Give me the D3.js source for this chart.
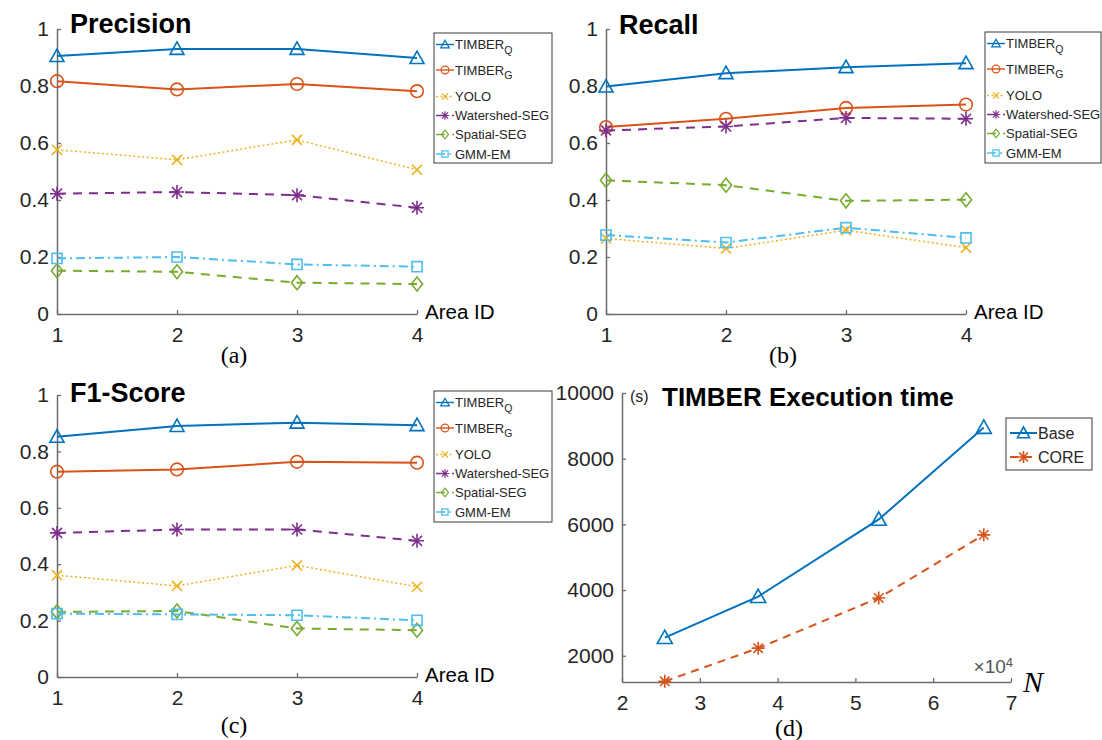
<!DOCTYPE html>
<html>
<head>
<meta charset="utf-8">
<script src="https://cdn.jsdelivr.net/npm/d3@7"></script>
<style>
  body { margin: 0; background: #fff; }
  svg { display: block; }
</style>
</head>
<body>
<svg id="chart" width="1102" height="740"></svg>
<script>
// ---- data -------------------------------------------------------------
const areaIds = [1, 2, 3, 4];
const methodNames = ["TIMBER", "TIMBER", "YOLO", "Watershed-SEG", "Spatial-SEG", "GMM-EM"];
const methodSubs = ["Q", "G", "", "", "", ""];

const precisionValues = [
  [0.905, 0.930, 0.930, 0.898],
  [0.817, 0.788, 0.807, 0.782],
  [0.576, 0.541, 0.611, 0.506],
  [0.422, 0.428, 0.417, 0.373],
  [0.152, 0.148, 0.110, 0.105],
  [0.195, 0.200, 0.174, 0.166]
];
const recallValues = [
  [0.798, 0.845, 0.866, 0.880],
  [0.656, 0.685, 0.723, 0.735],
  [0.265, 0.230, 0.294, 0.233],
  [0.644, 0.658, 0.688, 0.685],
  [0.469, 0.452, 0.397, 0.401],
  [0.277, 0.251, 0.303, 0.267]
];
const f1Values = [
  [0.852, 0.890, 0.902, 0.893],
  [0.728, 0.736, 0.763, 0.760],
  [0.361, 0.323, 0.396, 0.320],
  [0.511, 0.523, 0.523, 0.483],
  [0.231, 0.234, 0.172, 0.166],
  [0.225, 0.222, 0.219, 0.201]
];
const scoreTicks = [0, 0.2, 0.4, 0.6, 0.8, 1];

const nValues = [2.55, 3.75, 5.3, 6.65];
const baseTimes = [2550, 3800, 6150, 8950];
const coreTimes = [1220, 2230, 3760, 5680];
const nTicks = [2, 3, 4, 5, 6, 7];
const timeTicks = [2000, 4000, 6000, 8000, 10000];

// ---- styles -----------------------------------------------------------
const methodStyle = [
  { color: "#0072BD", marker: "triangle", dash: null,      width: 2 },
  { color: "#D95319", marker: "circle",   dash: null,      width: 2 },
  { color: "#EDB120", marker: "x",        dash: "2,2.5",   width: 1.5 },
  { color: "#7E2F8E", marker: "asterisk", dash: "9,7",     width: 2 },
  { color: "#77AC30", marker: "diamond",  dash: "9,7",     width: 2 },
  { color: "#4DBEEE", marker: "square",   dash: "9,4,2,4", width: 2 }
];
const SANS = "'Liberation Sans', Arial, sans-serif";
const SERIF = "'Liberation Serif', 'Times New Roman', serif";
const AXIS_COLOR = "#6b6b6b";
const TEXT_COLOR = "#262626";

const svg = d3.select("#chart");

function markerPath(kind, s) {
  switch (kind) {
    case "triangle":
      return `M0,${-s}L${s},${s * 0.78}L${-s},${s * 0.78}Z`;
    case "circle": {
      const p = d3.path(); p.arc(0, 0, s * 0.9, 0, 2 * Math.PI); return p.toString();
    }
    case "x": {
      const a = s * 0.72;
      return `M${-a},${-a}L${a},${a}M${-a},${a}L${a},${-a}`;
    }
    case "asterisk": {
      const a = s * 0.72, b = s;
      return `M0,${-b}V${b}M${-b},0H${b}M${-a},${-a}L${a},${a}M${-a},${a}L${a},${-a}`;
    }
    case "diamond":
      return `M0,${-s}L${s * 0.8},0L0,${s}L${-s * 0.8},0Z`;
    case "square": {
      const a = s * 0.72;
      return `M${-a},${-a}H${a}V${a}H${-a}Z`;
    }
  }
}

function drawAxes(g, x, y, xTicks, yTicks, yFormat) {
  const xAxis = d3.axisBottom(x).tickValues(xTicks).tickSizeInner(-4).tickSizeOuter(0)
    .tickPadding(13).tickFormat(d3.format("d"));
  const yAxis = d3.axisLeft(y).tickValues(yTicks).tickSizeInner(-4).tickSizeOuter(0)
    .tickPadding(8).tickFormat(yFormat);
  const [y0] = y.range();
  const gx = g.append("g").attr("transform", `translate(0,${y0})`).call(xAxis);
  const gy = g.append("g").attr("transform", `translate(${x.range()[0]},0)`).call(yAxis);
  [gx, gy].forEach(a => {
    a.select(".domain").attr("stroke", AXIS_COLOR).attr("stroke-width", 1.5);
    a.selectAll(".tick line").attr("stroke", AXIS_COLOR).attr("stroke-width", 1.3);
    a.selectAll(".tick text").attr("fill", TEXT_COLOR)
      .style("font-family", SANS).style("font-size", "21px");
  });
}

function drawSeries(g, xs, ys, x, y, st, markerSize) {
  const line = d3.line().x((d, i) => x(xs[i])).y(d => y(d));
  g.append("path").datum(ys).attr("d", line)
    .attr("fill", "none").attr("stroke", st.color).attr("stroke-width", st.width)
    .attr("stroke-dasharray", st.dash);
  g.selectAll(null).data(ys).join("path")
    .attr("transform", (d, i) => `translate(${x(xs[i])},${y(d)})`)
    .attr("d", markerPath(st.marker, markerSize))
    .attr("fill", "none").attr("stroke", st.color).attr("stroke-width", 1.6);
}

function drawLegend(g, lx, ly, lw, lh, rows, opts) {
  const lg = g.append("g");
  lg.append("rect").attr("x", lx).attr("y", ly).attr("width", lw).attr("height", lh)
    .attr("fill", "#fff").attr("stroke", "#3a3a3a").attr("stroke-width", 1);
  rows.forEach(r => {
    const cy = ly + r.offset;
    lg.append("line").attr("x1", lx + opts.lineX0).attr("x2", lx + opts.lineX1)
      .attr("y1", cy).attr("y2", cy)
      .attr("stroke", r.style.color).attr("stroke-width", opts.lineWidth || 1.4)
      .attr("stroke-dasharray", opts.solidSamples ? null : r.style.dash);
    lg.append("path")
      .attr("transform", `translate(${lx + (opts.lineX0 + opts.lineX1) / 2},${cy})`)
      .attr("d", markerPath(r.style.marker, opts.markerSize))
      .attr("fill", "none").attr("stroke", r.style.color).attr("stroke-width", opts.markerWidth || 1.2);
    const t = lg.append("text").attr("x", lx + opts.textX).attr("y", cy).attr("dy", "0.36em")
      .attr("fill", TEXT_COLOR).style("font-family", SANS).style("font-size", opts.fontSize + "px")
      .text(r.name);
    if (r.sub) {
      t.append("tspan").attr("dy", "0.45em").style("font-size", "10.5px").text(r.sub);
    }
  });
}

// ---- score panels -------------------------------------------------------
const scorePanels = [
  { title: "Precision", values: precisionValues, tag: "(a)",
    x0: 57, x1: 417, yTop: 29, yBot: 314, titleY: 33, tagY: 363,
    legend: [434, 33, 118, 130] },
  { title: "Recall", values: recallValues, tag: "(b)",
    x0: 606, x1: 966, yTop: 29, yBot: 314, titleY: 34, tagY: 363,
    legend: [985, 32, 116, 131] },
  { title: "F1-Score", values: f1Values, tag: "(c)",
    x0: 57, x1: 417, yTop: 395, yBot: 677, titleY: 402, tagY: 733,
    legend: [434, 391, 118, 131] }
];
const legendOffsets = [11.5, 37, 63.5, 82.5, 101.5, 121];

scorePanels.forEach(p => {
  const g = svg.append("g");
  const x = d3.scaleLinear().domain([1, 4]).range([p.x0, p.x1]);
  const y = d3.scaleLinear().domain([0, 1]).range([p.yBot, p.yTop]);
  drawAxes(g, x, y, areaIds, scoreTicks, d3.format("~g"));

  p.values.forEach((vals, i) => drawSeries(g, areaIds, vals, x, y, methodStyle[i], 7));

  g.append("text").attr("x", p.x0 + 13).attr("y", p.titleY)
    .style("font-family", SANS).style("font-size", "27px").style("font-weight", "bold")
    .attr("fill", "#000").text(p.title);
  g.append("text").attr("x", p.x1 + 8).attr("y", p.yBot + 5)
    .style("font-family", SANS).style("font-size", "20.5px").attr("fill", "#000").text("Area ID");
  g.append("text").attr("x", (p.x0 + p.x1) / 2 - 3).attr("y", p.tagY).attr("text-anchor", "middle")
    .style("font-family", SERIF).style("font-size", "24px").attr("fill", "#000").text(p.tag);

  const [lx, ly, lw, lh] = p.legend;
  drawLegend(g, lx, ly, lw, lh,
    methodNames.map((n, i) => ({ name: n, sub: methodSubs[i], style: methodStyle[i], offset: legendOffsets[i] })),
    { lineX0: 2, lineX1: 20, textX: 21, markerSize: 4.3, fontSize: 13 });
});

// ---- execution time panel ---------------------------------------------
(function () {
  const g = svg.append("g");
  const x = d3.scaleLinear().domain([2, 7]).range([622, 1011]);
  const y = d3.scaleLinear().domain([1200, 10000]).range([682, 393]);
  drawAxes(g, x, y, nTicks, timeTicks, d3.format("d"));

  const baseStyle = { color: "#0072BD", marker: "triangle", dash: null, width: 2 };
  const coreStyle = { color: "#D95319", marker: "asterisk", dash: "8,6", width: 2 };
  drawSeries(g, nValues, baseTimes, x, y, baseStyle, 7.5);
  drawSeries(g, nValues, coreTimes, x, y, coreStyle, 6.5);

  g.append("text").attr("x", 630).attr("y", 402)
    .style("font-family", SANS).style("font-size", "16px").attr("fill", TEXT_COLOR).text("(s)");
  g.append("text").attr("x", 662).attr("y", 406)
    .style("font-family", SANS).style("font-size", "26px").style("font-weight", "bold")
    .attr("fill", "#000").text("TIMBER Execution time");
  const mult = g.append("text").attr("x", 1013).attr("y", 673).attr("text-anchor", "end")
    .style("font-family", SANS).style("font-size", "19px").attr("fill", "#555").text("×10");
  mult.append("tspan").attr("dy", "-0.5em").style("font-size", "13px").text("4");
  g.append("text").attr("x", 1023).attr("y", 692)
    .style("font-family", SERIF).style("font-size", "30px").style("font-style", "italic")
    .attr("fill", "#000").text("N");
  g.append("text").attr("x", 789).attr("y", 736).attr("text-anchor", "middle")
    .style("font-family", SERIF).style("font-size", "24px").attr("fill", "#000").text("(d)");

  drawLegend(g, 1006, 418, 86, 52, [
    { name: "Base", sub: "", style: baseStyle, offset: 15 },
    { name: "CORE", sub: "", style: coreStyle, offset: 39 }
  ], { lineX0: 4, lineX1: 31, textX: 32, markerSize: 6, fontSize: 16, lineWidth: 2, markerWidth: 1.6 });
})();
</script>
</body>
</html>
